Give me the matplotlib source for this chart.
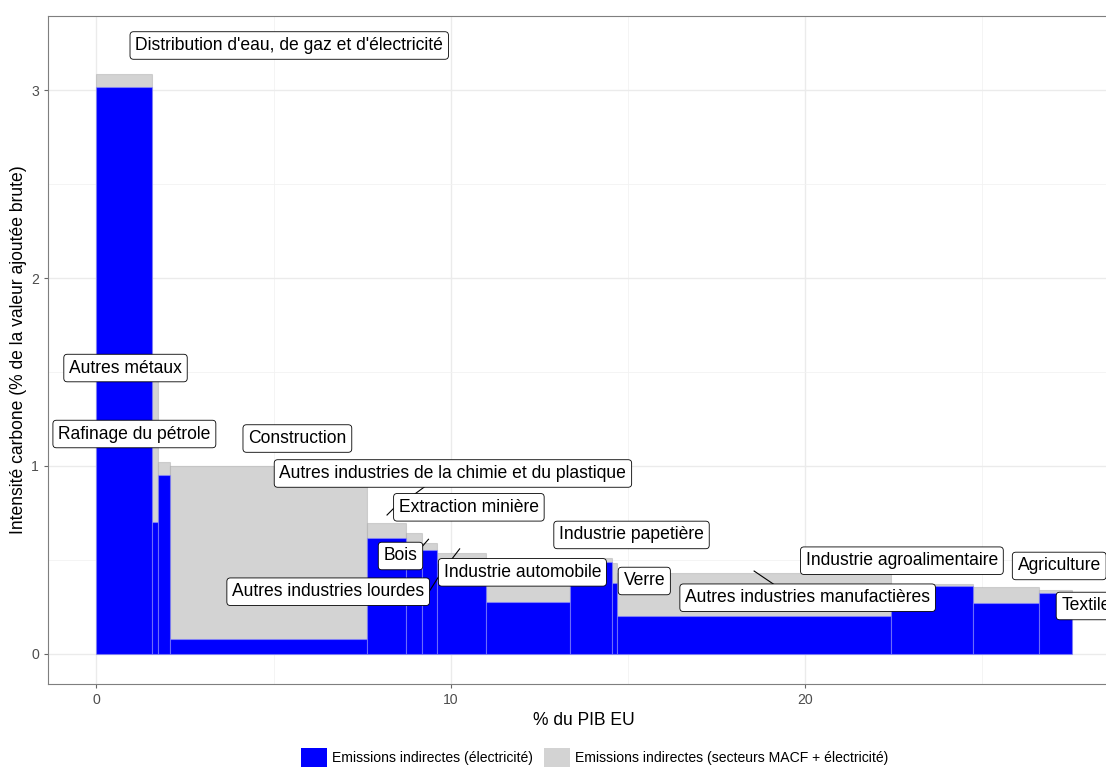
import matplotlib
matplotlib.use('Agg')
import matplotlib.pyplot as plt
from matplotlib.patches import Patch
import numpy as np

plt.rcParams['font.family'] = ['Liberation Sans', 'DejaVu Sans']

#Sectors, in the order they are stacked along the x axis
sectors = ["Distribution d'eau, de gaz et d'électricité", "Autres métaux", "Rafinage du pétrole",
           "Construction", "Extraction minière", "Autres industries de la chimie et du plastique",
           "Bois", "Industrie automobile", "Autres industries lourdes", "Industrie papetière",
           "Verre", "Autres industries manufactières", "Industrie agroalimentaire",
           "Agriculture", "Textile"]
gdp_share = [1.571, 0.158, 0.339, 5.568, 1.100, 0.452, 0.423, 1.383, 2.357, 1.196,
             0.141, 7.729, 2.314, 1.870, 0.923]   #% du PIB EU (bar widths)
emis_total = [3.083, 1.468, 1.023, 1.000, 0.698, 0.645, 0.592, 0.536, 0.505, 0.509,
              0.484, 0.429, 0.371, 0.358, 0.340]  #secteurs MACF + électricité
emis_elec = [3.014, 0.704, 0.952, 0.080, 0.619, 0.520, 0.553, 0.484, 0.278, 0.488,
             0.379, 0.202, 0.363, 0.273, 0.323]   #électricité only

#Label boxes (centre, data units) and leader lines
label_x = [5.44, 0.82, 1.07, 5.67, 10.51, 10.06, 8.58, 12.02, 6.54, 15.10,
           15.46, 20.07, 22.73, 27.17, 27.93]
label_y = [3.237, 1.521, 1.170, 1.146, 0.780, 0.960, 0.521, 0.434, 0.331, 0.633,
           0.388, 0.299, 0.496, 0.468, 0.255]
leaders = {
    "Autres industries de la chimie et du plastique": ((9.33, 0.899), (8.95, 0.846)),
    "Extraction minière": ((8.39, 0.775), (8.20, 0.739)),
    "Bois": ((9.19, 0.571), (9.37, 0.610)),
    "Industrie automobile": ((10.01, 0.500), (10.25, 0.559)),
    "Autres industries lourdes": ((9.37, 0.326), (9.70, 0.424)),
    "Autres industries manufactières": ((19.18, 0.362), (18.56, 0.441)),
}

left = np.concatenate([[0], np.cumsum(gdp_share)[:-1]])  #start of each bar

fig = plt.figure(figsize=(11.06, 7.72), dpi=100)
ax = fig.add_axes([0.04313, 0.11399, 0.97, 0.8653])  #panel runs past the right edge, like the original

ax.bar(left, emis_total, width=gdp_share, align='edge', color='lightgray',
       edgecolor=(0.55, 0.55, 0.55, 0.3), linewidth=0.8, zorder=2)
ax.bar(left, emis_elec, width=gdp_share, align='edge', color='blue',
       edgecolor=(0.6, 0.6, 1.0, 0.5), linewidth=0.8, zorder=3)

#Leader lines then labels
for name, (p0, p1) in leaders.items():
    ax.plot([p0[0], p1[0]], [p0[1], p1[1]], color='black', lw=0.8, zorder=4)
for name, lx, ly in zip(sectors, label_x, label_y):
    ax.text(lx, ly, name, ha='center', va='center', fontsize=12.65, zorder=5,
            bbox=dict(boxstyle='round,pad=0.3,rounding_size=0.2', fc='white', ec='black', lw=0.6))

ax.set_xlim(-1.376, 28.9)
ax.set_ylim(-0.160, 3.394)
ax.set_xticks([0, 10, 20])
ax.set_xticks([5, 15, 25], minor=True)
ax.set_yticks([0, 1, 2, 3])
ax.set_yticks([0.5, 1.5, 2.5], minor=True)
ax.grid(which='major', color='#EBEBEB', lw=1.0, zorder=0)
ax.grid(which='minor', color='#F2F2F2', lw=0.6, zorder=0)
ax.set_axisbelow(True)
ax.tick_params(which='major', length=3.2, color='#666666', labelcolor='#4D4D4D',
               labelsize=10.1, pad=3)
ax.tick_params(which='minor', length=0)
for s in ax.spines.values():
    s.set_color('#7F7F7F')
    s.set_linewidth(0.8)

ax.set_xlabel('% du PIB EU', fontsize=12.65, labelpad=4)
ax.set_ylabel('Intensité carbone (% de la valeur ajoutée brute)', fontsize=12.65, labelpad=3)

handles = [Patch(facecolor='blue'), Patch(facecolor='lightgray')]
names = ['Emissions indirectes (électricité)', 'Emissions indirectes (secteurs MACF + électricité)']
fig.legend(handles, names, loc='lower center', bbox_to_anchor=(595 / 1106, -0.01), ncol=2,
           frameon=False, fontsize=10.1, handlelength=1.8, handleheight=1.75,
           handletextpad=0.4, columnspacing=0.8)

fig.savefig('out.png', dpi=100)
